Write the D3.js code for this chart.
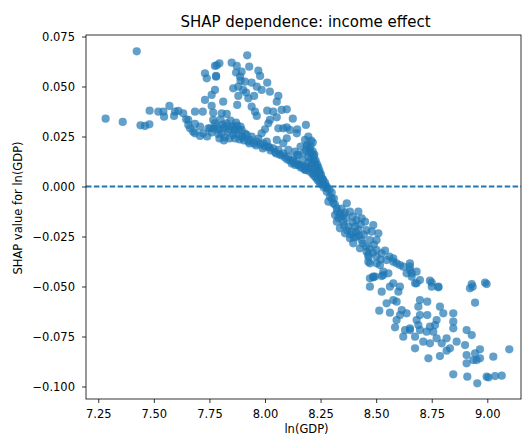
<!DOCTYPE html>
<html><head><meta charset="utf-8">
<script src="https://cdn.jsdelivr.net/npm/d3@7"></script>
<style>body{margin:0;background:#fff}text{font-family:"DejaVu Sans",sans-serif;fill:#000}</style>
</head><body><svg id="c" width="523" height="437"></svg>
<script>
// Points: [ln(GDP), SHAP value]
const leftSparse = [[7.283,0.0339],[7.360,0.0323],[7.423,0.0676],[7.440,0.0306],[7.460,0.0303],[7.480,0.0311],[7.481,0.0379],[7.520,0.0374],[7.543,0.0374],[7.546,0.0349],[7.570,0.0403],[7.591,0.0353],[7.595,0.0374],[7.632,0.0366],[7.645,0.0336],[7.655,0.0308],[7.663,0.0291],[7.677,0.0274],[7.685,0.0374],[7.685,0.0313],[7.685,0.0266],[7.708,0.0253],[7.708,0.0299],[7.720,0.0374],[7.722,0.0266],[7.655,0.0333],[7.610,0.0378],[7.730,0.0433],[7.760,0.0458],[7.775,0.0483],[7.760,0.0403],[7.812,0.0424],[7.730,0.0566],[7.738,0.0541],[7.780,0.0549],[7.775,0.0603],[7.795,0.0616],[7.783,0.0606]];
const lowerBand = [[7.745,0.0291],[7.753,0.0291],[7.767,0.0333],[7.767,0.0369],[7.775,0.0316],[7.783,0.0299],[7.790,0.0262],[7.805,0.0266],[7.805,0.0366],[7.812,0.0290],[7.820,0.0245],[7.828,0.0316],[7.828,0.0363],[7.835,0.0274],[7.840,0.0240],[7.850,0.0300],[7.857,0.0258],[7.857,0.0299],[7.865,0.0240],[7.870,0.0320],[7.880,0.0283],[7.885,0.0235],[7.895,0.0249],[7.895,0.0283],[7.905,0.0230],[7.910,0.0265],[7.918,0.0258],[7.925,0.0225],[7.933,0.0233],[7.940,0.0250],[7.950,0.0215],[7.963,0.0224],[7.970,0.0240],[7.978,0.0210],[7.992,0.0216],[8.000,0.0200],[8.008,0.0225],[8.015,0.0199],[8.025,0.0180],[8.037,0.0191],[8.045,0.0172],[8.060,0.0183],[8.065,0.0160],[8.082,0.0166],[8.090,0.0145],[8.105,0.0149],[8.112,0.0130],[8.127,0.0124],[8.135,0.0108],[8.150,0.0108],[8.160,0.0095],[8.172,0.0091],[8.185,0.0082],[8.202,0.0074],[8.215,0.0060],[8.225,0.0049],[7.800,0.0335],[7.820,0.0300],[7.845,0.0330],[7.865,0.0285],[7.875,0.0305],[7.890,0.0300],[7.760,0.0270],[7.740,0.0250],[7.795,0.0240],[7.815,0.0230],[7.960,0.0205],[7.990,0.0190],[8.020,0.0195],[8.050,0.0165],[8.075,0.0155],[8.100,0.0135],[8.120,0.0115],[8.140,0.0120],[8.165,0.0105],[8.180,0.0100],[8.195,0.0095],[7.930,0.0215],[7.900,0.0245],[7.870,0.0265],[7.840,0.0285],[7.810,0.0310],[7.790,0.0285],[7.770,0.0290]];
const upperArc = [[7.920,0.0656],[7.850,0.0619],[7.873,0.0603],[7.929,0.0599],[7.895,0.0574],[7.888,0.0549],[7.970,0.0579],[7.978,0.0553],[8.010,0.0519],[7.780,0.0553],[7.910,0.0524],[7.940,0.0519],[7.857,0.0491],[7.880,0.0499],[7.902,0.0483],[7.963,0.0499],[7.985,0.0483],[8.022,0.0474],[7.880,0.0453],[7.925,0.0441],[7.951,0.0453],[8.060,0.0453],[8.053,0.0424],[7.875,0.0408],[7.940,0.0399],[7.955,0.0374],[8.010,0.0379],[8.037,0.0374],[8.075,0.0383],[8.098,0.0386],[7.963,0.0353],[8.053,0.0346],[8.125,0.0339],[8.184,0.0308],[8.015,0.0316],[8.000,0.0286],[8.060,0.0291],[8.098,0.0296],[8.145,0.0286],[8.022,0.0333],[8.082,0.0291],[8.112,0.0283],[8.143,0.0266],[8.098,0.0241],[8.082,0.0216],[8.053,0.0233],[7.985,0.0266],[8.105,0.0183],[8.143,0.0158],[7.890,0.0530],[7.915,0.0470],[7.870,0.0570]];
const steepColumn = [[8.180,0.0233],[8.187,0.0199],[8.150,0.0158],[8.210,0.0166],[8.217,0.0133],[8.232,0.0099],[8.247,0.0066],[8.262,0.0033],[8.278,0.0000],[8.127,0.0133],[8.150,0.0108],[8.180,0.0083],[8.195,0.0149],[8.210,0.0116],[8.217,0.0066],[8.232,0.0041],[8.247,0.0016],[8.202,0.0174],[8.172,0.0166],[8.135,0.0174],[8.190,0.0210],[8.200,0.0190],[8.205,0.0140],[8.220,0.0150],[8.225,0.0120],[8.228,0.0085],[8.240,0.0070],[8.238,0.0030],[8.250,0.0045],[8.255,0.0010],[8.265,-0.0005],[8.270,0.0020],[8.195,0.0250],[8.185,0.0180],[8.195,0.0120],[8.200,0.0100],[8.212,0.0090],[8.160,0.0200],[8.170,0.0130],[8.205,0.0200],[8.215,0.0175],[8.222,0.0160],[8.228,0.0130],[8.235,0.0110],[8.240,0.0095],[8.245,0.0080],[8.252,0.0060],[8.258,0.0040],[8.262,0.0020],[8.272,0.0005],[8.280,-0.0010],[8.215,0.0220],[8.208,0.0230]];
const fallingBand = [[8.278,-0.0026],[8.292,-0.0051],[8.285,-0.0076],[8.307,-0.0084],[8.323,-0.0109],[8.337,-0.0134],[8.330,-0.0159],[8.352,-0.0176],[8.375,-0.0201],[8.390,-0.0226],[8.405,-0.0201],[8.412,-0.0168],[8.435,-0.0159],[8.450,-0.0176],[8.457,-0.0218],[8.480,-0.0226],[8.412,-0.0251],[8.435,-0.0268],[8.472,-0.0268],[8.502,-0.0268],[8.397,-0.0284],[8.427,-0.0309],[8.457,-0.0326],[8.502,-0.0318],[8.525,-0.0334],[8.465,-0.0351],[8.472,-0.0384],[8.517,-0.0393],[8.547,-0.0368],[8.577,-0.0359],[8.592,-0.0384],[8.622,-0.0401],[8.637,-0.0434],[8.532,-0.0443],[8.487,-0.0454],[8.368,-0.0084],[8.382,-0.0126],[8.352,-0.0143],[8.315,-0.0143],[8.323,-0.0176],[8.337,-0.0209],[8.360,-0.0234],[8.382,-0.0259],[8.487,-0.0193],[8.510,-0.0234],[8.420,-0.0126],[8.300,-0.0030],[8.310,-0.0060],[8.345,-0.0110],[8.365,-0.0160],[8.395,-0.0180],[8.420,-0.0215],[8.445,-0.0240],[8.490,-0.0290],[8.540,-0.0320],[8.560,-0.0350],[8.290,-0.0015],[8.300,-0.0060],[8.315,-0.0090],[8.325,-0.0125],[8.340,-0.0150],[8.355,-0.0195],[8.370,-0.0220],[8.385,-0.0240],[8.400,-0.0255],[8.410,-0.0230],[8.425,-0.0245],[8.440,-0.0285],[8.455,-0.0300],[8.470,-0.0310],[8.485,-0.0330],[8.500,-0.0350],[8.520,-0.0365],[8.360,-0.0130],[8.395,-0.0150],[8.430,-0.0190]];
const highIncome = [[8.465,-0.0376],[8.502,-0.0384],[8.577,-0.0376],[8.652,-0.0384],[8.472,-0.0459],[8.487,-0.0451],[8.525,-0.0448],[8.555,-0.0434],[8.472,-0.0501],[8.525,-0.0526],[8.562,-0.0501],[8.577,-0.0484],[8.607,-0.0501],[8.600,-0.0526],[8.592,-0.0576],[8.547,-0.0584],[8.577,-0.0568],[8.514,-0.0621],[8.562,-0.0631],[8.615,-0.0618],[8.637,-0.0634],[8.607,-0.0643],[8.592,-0.0668],[8.585,-0.0704],[8.630,-0.0718],[8.652,-0.0709],[8.622,-0.0751],[8.675,-0.0809],[8.735,-0.0859],[8.660,-0.0451],[8.675,-0.0484],[8.697,-0.0468],[8.652,-0.0418],[8.682,-0.0426],[8.742,-0.0471],[8.750,-0.0501],[8.780,-0.0501],[8.697,-0.0568],[8.730,-0.0576],[8.690,-0.0601],[8.697,-0.0643],[8.682,-0.0668],[8.730,-0.0643],[8.787,-0.0601],[8.802,-0.0634],[8.772,-0.0668],[8.742,-0.0701],[8.757,-0.0726],[8.765,-0.0693],[8.727,-0.0726],[8.712,-0.0776],[8.742,-0.0784],[8.772,-0.0759],[8.697,-0.0718],[8.675,-0.0751],[8.690,-0.0693],[8.652,-0.0718],[8.847,-0.0634],[8.847,-0.0676],[8.847,-0.0709],[8.817,-0.0759],[8.795,-0.0784],[8.787,-0.0848],[8.862,-0.0776],[8.900,-0.0793],[8.832,-0.0809],[8.817,-0.0821],[8.907,-0.0718],[8.930,-0.0743],[8.907,-0.0843],[8.907,-0.0884],[8.937,-0.0868],[8.945,-0.0834],[8.967,-0.0814],[8.967,-0.0859],[8.952,-0.0868],[9.027,-0.0851],[9.099,-0.0814],[8.930,-0.0488],[8.934,-0.0501],[8.922,-0.0509],[8.990,-0.0481],[8.997,-0.0488],[8.945,-0.0581],[8.847,-0.0939],[8.910,-0.0951],[8.955,-0.0984],[8.997,-0.0951],[9.005,-0.0955],[9.035,-0.0948],[9.065,-0.0946],[8.465,-0.0340],[8.495,-0.0450],[8.532,-0.0426],[8.607,-0.0393],[8.652,-0.0400],[8.660,-0.0434],[8.682,-0.0484],[8.750,-0.0480],[8.780,-0.0504]];
const xTicks = [7.25,7.5,7.75,8.0,8.25,8.5,8.75,9.0];
const yTicks = [0.075,0.05,0.025,0,-0.025,-0.05,-0.075,-0.1];
const titleText = "SHAP dependence: income effect";
const xLabel = "ln(GDP)";
const yLabel = "SHAP value for ln(GDP)";

const points = [].concat(leftSparse, lowerBand, upperArc, steepColumn, fallingBand, highIncome);
const m = {l:86, r:521, t:35, b:399};
const svg = d3.select("#c");
const x = d3.scaleLinear().domain([7.1948, 9.1516]).range([m.l, m.r]);
const y = d3.scaleLinear().domain([-0.10625, 0.07575]).range([m.b, m.t]);
const blue = "#1f77b4";

svg.append("g").selectAll("circle").data(points).join("circle")
  .attr("cx", d => x(d[0])).attr("cy", d => y(d[1])).attr("r", 4.1)
  .attr("fill", blue).attr("fill-opacity", 0.7);

svg.append("line").attr("x1", m.l).attr("x2", m.r).attr("y1", y(0)).attr("y2", y(0))
  .attr("stroke", blue).attr("stroke-width", 2).attr("stroke-dasharray", "5.5,2.4");

const fmt = d3.format(".2f");
const fmtY = d => d3.format(".3f")(d).replace("-", "\u2212");
const gx = svg.append("g").attr("transform", `translate(0,${m.b})`)
  .call(d3.axisBottom(x).tickValues(xTicks).tickFormat(fmt).tickSize(4).tickPadding(7).tickSizeOuter(0));
const gy = svg.append("g").attr("transform", `translate(${m.l},0)`)
  .call(d3.axisLeft(y).tickValues(yTicks).tickFormat(fmtY).tickSize(4).tickPadding(7).tickSizeOuter(0));
[gx, gy].forEach(g => {
  g.select(".domain").remove();
  g.selectAll("line").attr("stroke", "#000").attr("stroke-width", 0.8);
  g.selectAll("text").attr("font-size", 11.5).attr("font-family", "DejaVu Sans").attr("fill", "#000");
});
svg.append("rect").attr("x", m.l).attr("y", m.t).attr("width", m.r - m.l).attr("height", m.b - m.t)
  .attr("fill", "none").attr("stroke", "#000").attr("stroke-width", 0.8);

svg.append("text").attr("x", (m.l + m.r) / 2 + 2).attr("y", 27).attr("text-anchor", "middle")
  .attr("font-size", 15).text(titleText);
svg.append("text").attr("x", (m.l + m.r) / 2 + 3).attr("y", 433).attr("text-anchor", "middle")
  .attr("font-size", 11.5).text(xLabel);
svg.append("text").attr("transform", `translate(22,208) rotate(-90)`).attr("text-anchor", "middle")
  .attr("font-size", 11.5).text(yLabel);
</script></body></html>
